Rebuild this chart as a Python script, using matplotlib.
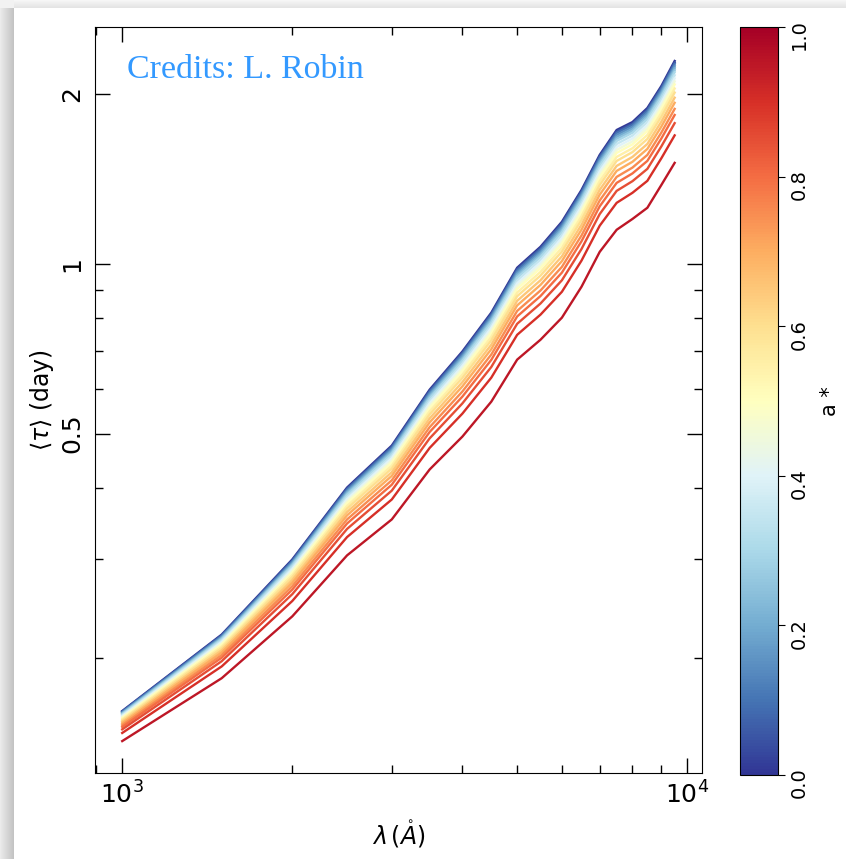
import numpy as np
import matplotlib
matplotlib.use("Agg")
import matplotlib.pyplot as plt
from matplotlib.ticker import NullFormatter, LogLocator

# wavelength grid (Angstrom)
wave = [1000, 1500, 2000, 2500, 3000, 3500, 4000, 4500, 5000,
        5500, 6000, 6500, 7000, 7500, 8000, 8500, 9000, 9500]

# mean lag (days) for the non-spinning case
tau_a0 = [0.161, 0.220, 0.299, 0.401, 0.476, 0.598, 0.699, 0.819, 0.984,
          1.072, 1.187, 1.352, 1.560, 1.727, 1.784, 1.889, 2.067, 2.289]

# mean lag (days) for the highest spin
tau_a95 = [0.1424, 0.1841, 0.2370, 0.3040, 0.3521, 0.4317, 0.4938, 0.5695, 0.6761,
           0.7335, 0.8025, 0.9107, 1.050, 1.149, 1.201, 1.257, 1.380, 1.510]

spins = [0.00, 0.05, 0.10, 0.15, 0.20, 0.25, 0.30, 0.35, 0.40, 0.45,
         0.50, 0.55, 0.60, 0.65, 0.70, 0.75, 0.80, 0.85, 0.90, 0.95]

# fractional position of each spin between the a*=0 and a*=0.95 curves (log space)
spin_frac = [0.0, 0.015, 0.03, 0.05, 0.07, 0.09, 0.11, 0.14, 0.17, 0.20,
             0.23, 0.27, 0.31, 0.36, 0.41, 0.47, 0.53, 0.61, 0.73, 1.0]

W, H = 846, 859
fig = plt.figure(figsize=(W / 100, H / 100), dpi=100)

# page shadow along the left and top edges
bg = np.ones((H, W, 3))
xs = np.arange(14)
bg[:, :14, :] = ((235 - xs / 13 * 40) / 255)[None, :, None]
ys = np.arange(8)
bg[:8, 14:, :] = ((246 - ys / 7 * 18) / 255)[:, None, None]
bg[:8, :14, :] = 0.95
fig.figimage(bg, xo=0, yo=0, origin="upper", zorder=-10)

ax = fig.add_axes([95 / W, 1 - 773 / H, 607 / W, 746 / H])
cax = fig.add_axes([740 / W, 1 - 775 / H, 38 / W, 748 / H])

cmap = plt.get_cmap("RdYlBu_r")
norm = plt.Normalize(0, 1)

lw0 = np.log10(tau_a0)
lw1 = np.log10(tau_a95)
for a, f in zip(spins, spin_frac):
    tau = 10 ** (lw0 + f * (lw1 - lw0))
    ax.plot(wave, tau, color=cmap(norm(a)), lw=1.7)

ax.set_xscale("log")
ax.set_yscale("log")
ax.set_xlim(895, 10620)
ax.set_ylim(0.125, 2.63)

ax.set_yticks([0.5, 1, 2], ["0.5", "1", "2"])
ax.yaxis.set_minor_locator(LogLocator(subs=np.arange(2, 10)))
ax.yaxis.set_minor_formatter(NullFormatter())
ax.xaxis.set_minor_formatter(NullFormatter())

ax.tick_params(which="both", direction="in", top=True, right=True, width=1)
ax.tick_params(which="major", length=11, labelsize=18)
ax.tick_params(axis="x", which="major", pad=6)
ax.tick_params(axis="y", which="major", pad=8)
ax.tick_params(which="minor", length=6)
for lab in ax.get_yticklabels():
    lab.set_rotation(90)
    lab.set_va("center")

ax.set_xlabel(r"$\lambda\,(\mathring{A})$", fontsize=17, labelpad=7)
ax.set_ylabel(r"$\langle\tau\rangle$ (day)", fontsize=17, labelpad=3)

ax.text(0.053, 0.932, "Credits: L. Robin", transform=ax.transAxes,
        fontsize=24.5, color="#3399ff", family="Liberation Serif", va="baseline")

sm = matplotlib.cm.ScalarMappable(norm=norm, cmap=cmap)
cb = fig.colorbar(sm, cax=cax, ticks=[0.0, 0.2, 0.4, 0.6, 0.8, 1.0])
cb.ax.set_yticklabels(["0.0", "0.2", "0.4", "0.6", "0.8", "1.0"])
cb.ax.tick_params(labelsize=14, length=5, labelrotation=90)
cb.set_label("a *", fontsize=15, labelpad=8)

fig.savefig("out.png", dpi=100)
